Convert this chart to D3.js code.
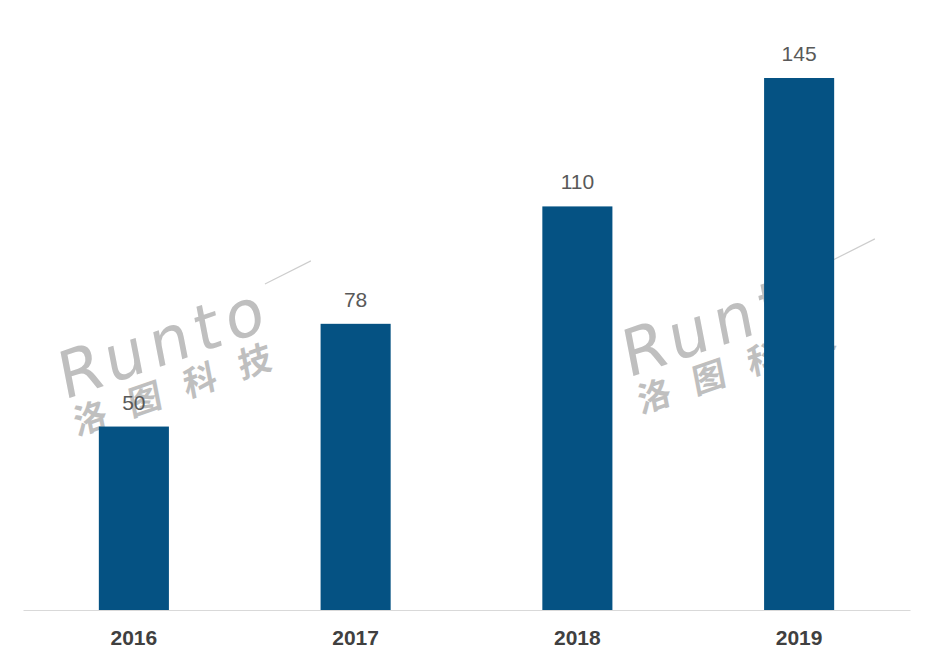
<!DOCTYPE html>
<html>
<head>
<meta charset="utf-8">
<script src="https://d3js.org/d3.v7.min.js"></script>
<style>
  body { margin: 0; background: #fff; }
</style>
</head>
<body>
<svg id="chart" width="933" height="664"></svg>
<script>
// data
var years = ['2016', '2017', '2018', '2019'];
var values = [50, 78, 110, 145];

var svg = d3.select('#chart');
var left = 23, right = 910, baseY = 610;

var xs = d3.scaleBand().domain(years).range([left, right]).padding(0);
var ys = d3.scaleLinear().domain([0, 145]).range([baseY, 78]);
var barW = xs.bandwidth() * 0.316;

// watermarks (behind the bars)
function watermark(x, y) {
  var g = svg.append('g')
    .attr('transform', 'translate(' + x + ',' + y + ') rotate(-19) skewX(-8)')
    .style('fill', '#b4b4b4')
    .style('opacity', 0.85);
  g.append('text')
    .attr('x', 0).attr('y', 8)
    .attr('font-family', 'DejaVu Sans')
    .attr('font-size', 64)
    .attr('letter-spacing', 7)
    .text('Runto');
  // swoosh off the "o"
  g.append('line')
    .attr('x1', 222).attr('y1', -36)
    .attr('x2', 272).attr('y2', -43)
    .style('stroke', '#c4c4c4')
    .style('stroke-width', 1.2);
  g.append('text')
    .attr('x', 6).attr('y', 46)
    .attr('font-family', 'Noto Sans CJK SC')
    .attr('font-weight', 'bold')
    .attr('font-size', 34)
    .attr('letter-spacing', 24)
    .text('洛图科技');
}
watermark(62, 392);
watermark(626, 370);

// bars
svg.append('g')
  .selectAll('rect')
  .data(values)
  .enter()
  .append('rect')
    .attr('x', function(d, i) { return xs(years[i]) + (xs.bandwidth() - barW) / 2; })
    .attr('y', function(d) { return ys(d); })
    .attr('width', barW)
    .attr('height', function(d) { return baseY - ys(d); })
    .attr('fill', '#055283');

// value labels
svg.append('g')
  .selectAll('text')
  .data(values)
  .enter()
  .append('text')
    .attr('x', function(d, i) { return xs(years[i]) + xs.bandwidth() / 2; })
    .attr('y', function(d) { return ys(d) - 17; })
    .attr('text-anchor', 'middle')
    .attr('font-family', 'Liberation Sans, Arial, sans-serif')
    .attr('font-size', 21)
    .attr('fill', '#595959')
    .text(function(d) { return d; });

// x axis
var xAxis = svg.append('g')
  .attr('transform', 'translate(0,' + baseY + ')')
  .call(d3.axisBottom(xs).tickSize(0).tickPadding(0));
xAxis.select('.domain').attr('stroke', '#d9d9d9').attr('stroke-width', 1.2);
xAxis.selectAll('text')
  .attr('dy', 0)
  .attr('y', 35)
  .attr('font-family', 'Liberation Sans, Arial, sans-serif')
  .attr('font-weight', 'bold')
  .attr('font-size', 21)
  .attr('fill', '#404040');
</script>
</body>
</html>
